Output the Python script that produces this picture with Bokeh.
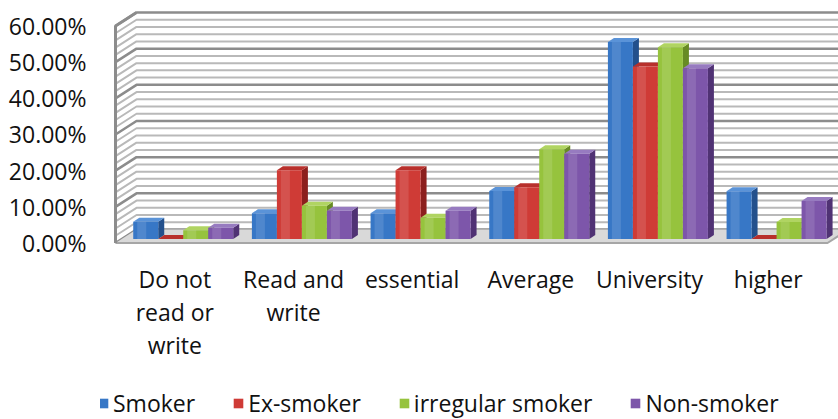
from bokeh.plotting import figure
from bokeh.models import (Range1d, LinearAxis, FixedTicker, NumeralTickFormatter,
                          Legend, LegendItem)
from bokeh.core.properties import value
from bokeh.embed import file_html
from bokeh.resources import INLINE

# ---- data -------------------------------------------------------------
categories = [["Do not", "read or", "write"], ["Read and", "write"], ["essential"],
              ["Average"], ["University"], ["higher"]]
series_names = ["Smoker", "Ex-smoker", "irregular smoker", "Non-smoker"]
smoker = [4.8, 7.1, 7.1, 13.3, 54.5, 13.2]
ex_smoker = [0.0, 19.0, 19.0, 14.3, 47.7, 0.0]
irregular_smoker = [2.4, 9.2, 5.9, 24.8, 53.0, 4.7]
non_smoker = [3.1, 7.8, 7.8, 23.6, 47.2, 10.5]
y_ticks = [0, 10, 20, 30, 40, 50, 60]

series = [smoker, ex_smoker, irregular_smoker, non_smoker]
front_colors = ["#3777c6", "#cf3b36", "#96c33d", "#7d56aa"]
side_colors = ["#23508c", "#8c1f1d", "#678b24", "#503274"]
top_colors = ["#5a93d8", "#b8302c", "#b0d462", "#977bc0"]

# ---- layout constants (x in screen px, y in fraction units) ----------
W, H = 838, 419
LEFT = 100
PX = 361.67            # pixels per 100 %
FRONT_BASE = 242.5     # screen row of the 0 % line on the front plane


def row(py):
    """screen row -> y data value"""
    return (FRONT_BASE - py) / PX


X0 = 115.0             # front plane left edge
CAT_W = 118.67
X_END = X0 + CAT_W * len(categories)
WALL_DX, WALL_DY = 21.0, 13.5 / PX
BAR_PAD, BAR_W = 9.33, 25.0
BAR_OFF_X, BAR_OFF_Y = 8.4, 4.0 / PX
SIDE_DX, SIDE_DY = 6.0, 4.0 / PX
TOP = y_ticks[-1] / 100

p = figure(width=W, height=H, x_range=Range1d(LEFT, W),
           y_range=Range1d(row(H), row(0)),
           x_axis_type=None, y_axis_type=None,
           output_backend="svg", toolbar_location=None,
           min_border_left=LEFT, min_border_right=0,
           min_border_top=0, min_border_bottom=0)
p.outline_line_color = None
p.background_fill_color = "white"

# ---- walls and gridlines ---------------------------------------------
minor_xs, minor_ys, major_xs, major_ys = [], [], [], []
for g in range(0, y_ticks[-1] + 1, 2):
    v = g / 100
    xs = [X0, X0 + WALL_DX, W + 40]
    ys = [v, v + WALL_DY, v + WALL_DY]
    if g % 10 == 0:
        major_xs.append(xs)
        major_ys.append(ys)
    else:
        minor_xs.append(xs)
        minor_ys.append(ys)
p.multi_line(minor_xs, minor_ys, line_color="#b9b9b9", line_width=2)
p.multi_line(major_xs, major_ys, line_color="#8c8c8c", line_width=2.5)

# floor
p.patch([X0, X_END, X_END + WALL_DX, X0 + WALL_DX], [0, 0, WALL_DY, WALL_DY],
        fill_color="#d9d9d9", line_color=None)
p.line([X0, X_END, X_END + WALL_DX], [0, 0, WALL_DY], line_color="#a6a6a6", line_width=2)

# left wall front edge
p.line([X0, X0, X0 + WALL_DX], [0, TOP, TOP + WALL_DY], line_color="#8c8c8c", line_width=3)

# ---- bars --------------------------------------------------------------
legend_items = []
for j, vals in enumerate(series):
    xl = [X0 + i * CAT_W + BAR_PAD + j * BAR_W + BAR_OFF_X for i in range(len(vals))]
    xr = [x + BAR_W for x in xl]
    yb = BAR_OFF_Y
    yt = [yb + v / 100 for v in vals]
    side_xs = [[r, r + SIDE_DX, r + SIDE_DX, r] for r in xr]
    side_ys = [[yb, yb + SIDE_DY, t + SIDE_DY, t] for t in yt]
    top_xs = [[l, r, r + SIDE_DX, l + SIDE_DX] for l, r in zip(xl, xr)]
    top_ys = [[t, t, t + SIDE_DY, t + SIDE_DY] for t in yt]
    p.patches(side_xs, side_ys, fill_color=side_colors[j], line_color=None)
    p.patches(top_xs, top_ys, fill_color=top_colors[j], line_color=None)
    front = p.quad(left=xl, right=xr, bottom=yb, top=yt,
                   fill_color=front_colors[j], line_color=None)
    # soft highlight on the face
    p.quad(left=[l + 4 for l in xl], right=[l + 13 for l in xl], bottom=yb, top=yt,
           fill_color="white", fill_alpha=0.12, line_color=None)
    legend_items.append(LegendItem(label=series_names[j], renderers=[front]))

# ---- category labels ---------------------------------------------------
lx, ly, lt = [], [], []
for i, lines in enumerate(categories):
    for k, line in enumerate(lines):
        lx.append(X0 + (i + 0.5) * CAT_W)
        ly.append(row(278 + 33 * k))
        lt.append(line)
p.text(x=lx, y=ly, text=lt, text_font=value("Open Sans"), text_font_size=value("23px"),
       text_align="center", text_baseline="middle", text_color="#111111")

# ---- value axis --------------------------------------------------------
ax = LinearAxis(ticker=FixedTicker(ticks=[t / 100 for t in y_ticks]),
                formatter=NumeralTickFormatter(format="0.00%"))
ax.axis_line_color = None
ax.major_tick_line_color = None
ax.minor_tick_line_color = None
ax.major_label_standoff = 8
ax.major_label_text_font = "Open Sans"
ax.major_label_text_font_size = "23px"
ax.major_label_text_color = "#111111"
p.add_layout(ax, "left")

# ---- legend ------------------------------------------------------------
legend = Legend(items=legend_items, orientation="horizontal", location=(-3, 0),
                glyph_width=12, glyph_height=12, label_standoff=4, spacing=37,
                padding=0, margin=0, border_line_alpha=0, background_fill_alpha=0,
                label_text_font="Open Sans", label_text_font_size="23px",
                label_text_color="#111111", label_height=28)
p.add_layout(legend)

open("out.html", "w").write(file_html(p, INLINE))
